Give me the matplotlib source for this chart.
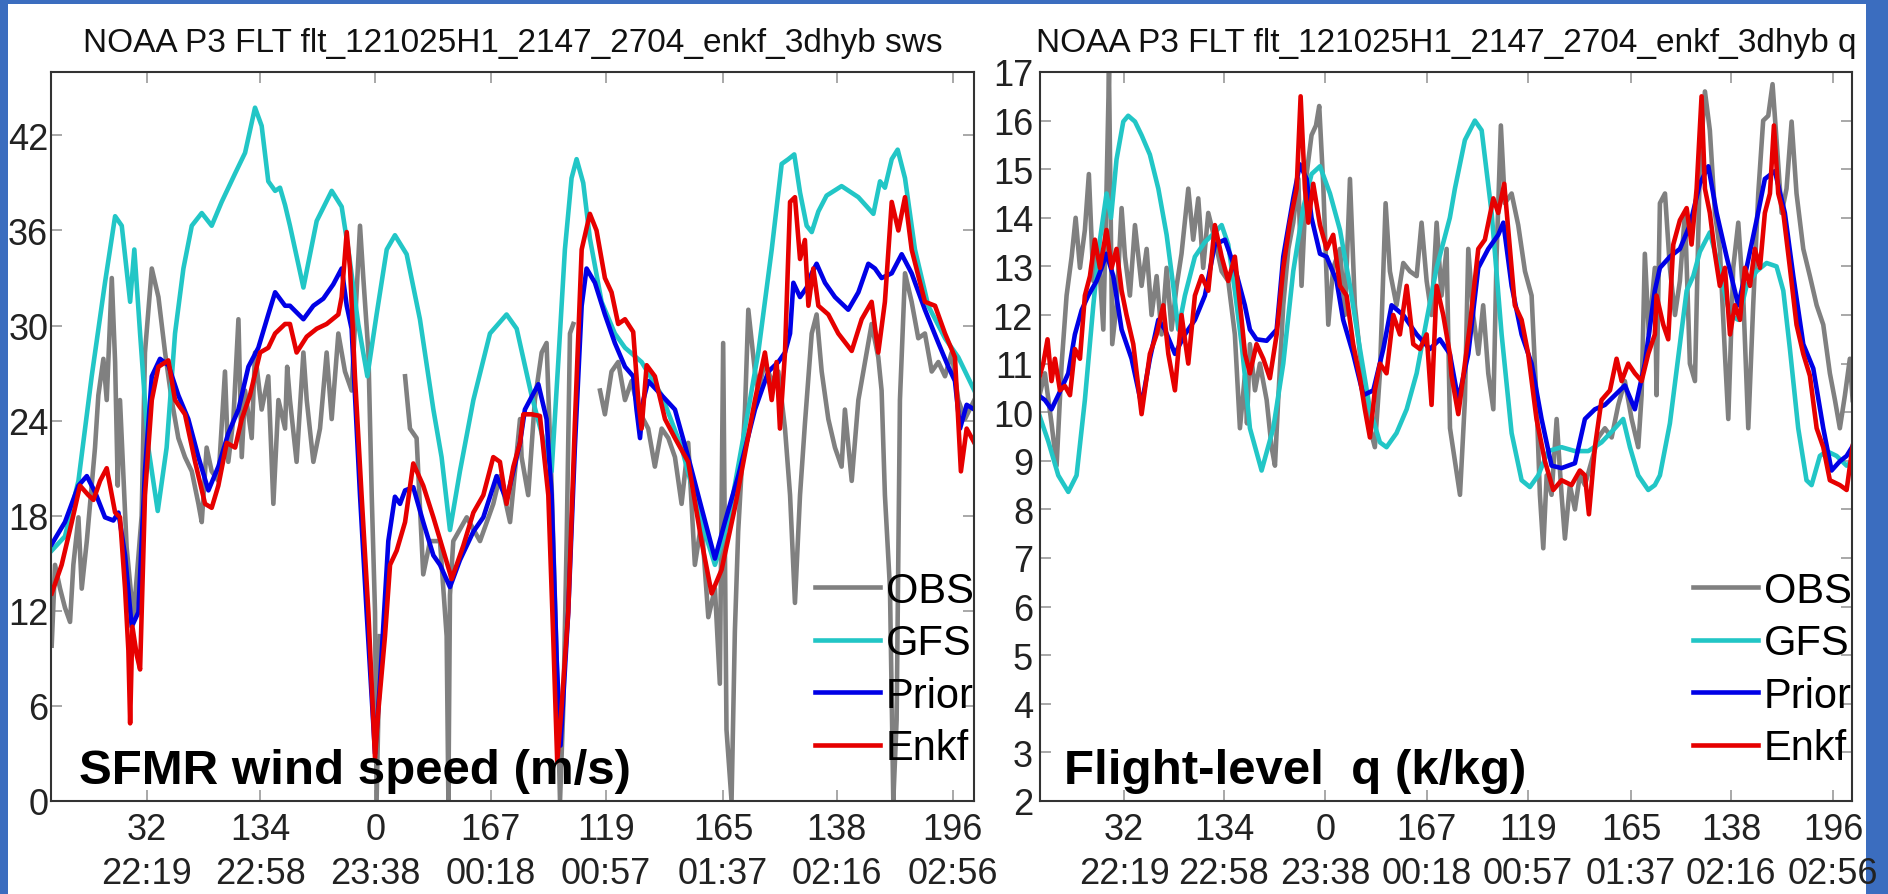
import numpy as np
import matplotlib.pyplot as plt
from matplotlib.patches import Rectangle
from matplotlib.lines import Line2D

plt.rcParams['font.family'] = ['Liberation Sans', 'DejaVu Sans']

# time axis in hours (values above 24 are after midnight)
t_start, t_end = 21.783, 27.067
tick_hours = [22.33, 22.98, 23.64, 24.30, 24.96, 25.63, 26.28, 26.945]
tick_heading = ['32', '134', '0', '167', '119', '165', '138', '196']
tick_clock = ['22:19', '22:58', '23:38', '00:18', '00:57', '01:37', '02:16', '02:56']

series_names = ['OBS', 'GFS', 'Prior', 'Enkf']
series_colors = ['#808080', '#22c6c6', '#0000e6', '#e60000']

# ---- SFMR surface wind speed (m/s), (hour, value) ----
sws_obs = [
    (21.787, 9.8), (21.806, 14.9), (21.835, 13.4), (21.863, 12.2), (21.892, 11.3), (21.911, 14.9),
    (21.940, 17.9), (21.959, 13.4), (21.988, 16.4), (22.035, 22.3), (22.054, 25.6), (22.083, 27.9),
    (22.102, 25.3), (22.131, 33.0), (22.150, 27.7), (22.165, 19.9), (22.178, 25.3), (22.216, 16.0),
    (22.255, 11.5), (22.302, 18.0), (22.321, 28.3), (22.360, 33.6), (22.398, 31.8), (22.436, 28.3),
    (22.474, 25.3), (22.512, 22.9), (22.550, 21.7), (22.589, 20.8), (22.627, 18.75), (22.646, 17.6),
    (22.674, 22.3), (22.703, 20.8), (22.741, 20.2), (22.779, 27.1), (22.798, 21.4), (22.827, 24.1),
    (22.856, 30.4), (22.875, 21.7), (22.894, 25.9), (22.932, 22.9), (22.951, 28.3), (22.989, 24.7),
    (23.027, 26.8), (23.056, 18.75), (23.085, 25.3), (23.123, 23.5), (23.135, 27.4), (23.151, 25.3),
    (23.189, 21.4), (23.228, 28.3), (23.247, 25.3), (23.285, 21.4), (23.323, 23.5), (23.361, 28.3),
    (23.390, 24.1), (23.428, 29.5), (23.466, 27.1), (23.504, 25.9), (23.552, 36.3), (23.571, 33.0),
    (23.600, 28.3), (23.619, 19.3), (23.638, 11.9), (23.647, 0.0), (23.666, 10.4), (23.740, np.nan),
    (23.810, 26.8), (23.838, 23.5), (23.876, 22.9), (23.914, 14.3), (23.953, 16.4), (24.010, 16.4),
    (24.048, 10.4), (24.058, 0.0), (24.067, 13.0), (24.086, 16.4), (24.163, 17.9), (24.239, 16.4),
    (24.315, 18.75), (24.353, 20.5), (24.411, 17.6), (24.468, 24.1), (24.477, 21.7), (24.515, 19.3),
    (24.553, 25.3), (24.592, 28.3), (24.620, 28.9), (24.649, 19.9), (24.678, 8.9), (24.697, 0.0),
    (24.716, 5.95), (24.735, 16.4), (24.754, 29.5), (24.773, 30.1), (24.850, np.nan), (24.926, 25.9),
    (24.954, 24.4), (24.992, 27.1), (25.030, 27.7), (25.069, 25.3), (25.107, 26.5), (25.145, 24.7),
    (25.202, 23.5), (25.240, 21.1), (25.279, 23.5), (25.317, 22.9), (25.355, 21.7), (25.393, 18.75),
    (25.431, 22.6), (25.469, 14.9), (25.507, 17.6), (25.546, 11.6), (25.584, 13.4), (25.612, 7.4),
    (25.631, 28.9), (25.650, 4.5), (25.679, 0.0), (25.698, 10.7), (25.717, 17.0), (25.756, 24.7),
    (25.775, 31.0), (25.813, 27.1), (25.832, 25.9), (25.870, 27.7), (25.909, 26.5), (25.947, 27.1),
    (25.985, 23.5), (26.014, 19.3), (26.042, 12.5), (26.071, 19.3), (26.099, 23.8), (26.138, 29.5),
    (26.166, 30.7), (26.195, 27.1), (26.233, 24.1), (26.271, 22.3), (26.309, 21.1), (26.328, 24.7),
    (26.367, 20.2), (26.405, 25.3), (26.443, 27.7), (26.481, 30.1), (26.519, 28.0), (26.538, 25.9),
    (26.557, 19.3), (26.586, 13.4), (26.605, 0.0), (26.624, 5.1), (26.643, 25.3), (26.672, 33.3),
    (26.710, 31.5), (26.748, 29.2), (26.786, 29.5), (26.825, 27.1), (26.863, 27.7), (26.901, 26.8),
    (26.939, 28.3), (26.977, 25.3), (27.015, 24.1), (27.069, 25.3),
]
sws_gfs = [
    (21.787, 15.8), (21.863, 16.7), (21.940, 20.2), (22.016, 26.8), (22.092, 32.7), (22.150, 36.9),
    (22.188, 36.3), (22.236, 31.5), (22.260, 34.8), (22.293, 29.5), (22.340, 22.3), (22.394, 18.3),
    (22.445, 22.3), (22.493, 29.5), (22.541, 33.6), (22.589, 36.3), (22.646, 37.1), (22.703, 36.3),
    (22.760, 37.8), (22.837, 39.6), (22.894, 40.9), (22.951, 43.75), (22.989, 42.6), (23.027, 39.1),
    (23.066, 38.5), (23.094, 38.7), (23.123, 37.6), (23.151, 36.3), (23.228, 32.4), (23.304, 36.6),
    (23.390, 38.5), (23.447, 37.5), (23.485, 34.8), (23.542, 30.1), (23.594, 26.8), (23.647, 30.7),
    (23.705, 34.8), (23.752, 35.7), (23.819, 34.5), (23.895, 30.4), (23.972, 24.7), (24.019, 21.7),
    (24.067, 17.1), (24.124, 20.8), (24.201, 25.3), (24.296, 29.5), (24.391, 30.7), (24.449, 29.8),
    (24.534, 25.6), (24.592, 23.2), (24.649, 20.8), (24.687, 27.7), (24.725, 34.8), (24.763, 39.3),
    (24.792, 40.5), (24.830, 39.0), (24.868, 35.5), (24.935, 31.5), (25.011, 29.5), (25.069, 28.6),
    (25.164, 27.7), (25.279, 25.6), (25.393, 22.3), (25.507, 17.6), (25.584, 14.9), (25.660, 17.6),
    (25.775, 24.7), (25.832, 28.3), (25.909, 34.8), (25.966, 40.2), (26.004, 40.5), (26.038, 40.8),
    (26.071, 38.4), (26.109, 36.3), (26.138, 35.9), (26.176, 37.2), (26.223, 38.2), (26.309, 38.8),
    (26.405, 38.1), (26.491, 37.05), (26.529, 39.1), (26.557, 38.7), (26.596, 40.5), (26.630, 41.1),
    (26.672, 39.3), (26.729, 34.8), (26.805, 31.25), (26.901, 29.2), (26.977, 28.0), (27.069, 25.9),
]
sws_prior = [
    (21.787, 16.2), (21.863, 17.6), (21.940, 19.9), (21.988, 20.5), (22.035, 19.5), (22.092, 17.9),
    (22.140, 17.7), (22.169, 18.2), (22.207, 15.5), (22.245, 11.0), (22.283, 11.9), (22.321, 20.8),
    (22.360, 26.8), (22.407, 27.9), (22.455, 27.5), (22.512, 25.6), (22.569, 24.1), (22.627, 21.7),
    (22.684, 19.6), (22.741, 21.1), (22.798, 23.2), (22.856, 24.7), (22.913, 27.4), (22.970, 28.6),
    (23.027, 30.7), (23.066, 32.1), (23.123, 31.25), (23.151, 31.25), (23.228, 30.4), (23.285, 31.25),
    (23.342, 31.7), (23.399, 32.6), (23.447, 33.6), (23.476, 31.25), (23.504, 29.8), (23.552, 19.3),
    (23.590, 11.9), (23.638, 3.0), (23.666, 7.4), (23.714, 16.4), (23.752, 19.2), (23.781, 18.75),
    (23.810, 19.6), (23.857, 19.8), (23.914, 17.6), (23.972, 15.5), (24.010, 14.9), (24.067, 13.5),
    (24.124, 15.2), (24.201, 17.0), (24.258, 17.9), (24.334, 20.5), (24.391, 19.0), (24.468, 22.6),
    (24.496, 24.7), (24.573, 26.3), (24.620, 24.1), (24.649, 19.3), (24.678, 8.9), (24.700, 3.5),
    (24.744, 11.9), (24.782, 22.3), (24.821, 31.25), (24.849, 33.6), (24.897, 32.7), (24.954, 30.7),
    (25.011, 28.9), (25.069, 27.4), (25.116, 26.8), (25.135, 24.7), (25.155, 22.9), (25.174, 25.3),
    (25.202, 26.5), (25.279, 25.6), (25.355, 24.7), (25.431, 21.7), (25.507, 18.5), (25.584, 15.3),
    (25.641, 17.6), (25.717, 20.5), (25.813, 24.7), (25.832, 25.3), (25.890, 27.1), (25.947, 27.7),
    (25.985, 28.3), (26.014, 29.5), (26.033, 32.7), (26.071, 31.8), (26.109, 32.4), (26.138, 33.3),
    (26.166, 33.9), (26.214, 32.7), (26.271, 31.8), (26.347, 31.0), (26.405, 32.1), (26.462, 33.9),
    (26.500, 33.6), (26.538, 33.0), (26.596, 33.3), (26.653, 34.5), (26.710, 33.3), (26.786, 31.0),
    (26.863, 28.9), (26.920, 27.4), (26.958, 26.5), (26.987, 23.5), (27.025, 25.0), (27.069, 24.7),
]
sws_enkf = [
    (21.787, 13.1), (21.844, 14.9), (21.902, 17.6), (21.949, 19.9), (21.997, 19.3), (22.026, 19.0),
    (22.064, 20.2), (22.102, 21.0), (22.121, 19.9), (22.150, 18.2), (22.178, 17.9), (22.207, 13.4),
    (22.226, 9.5), (22.236, 4.9), (22.249, 11.0), (22.274, 9.2), (22.293, 8.3), (22.321, 19.3),
    (22.360, 25.3), (22.398, 27.4), (22.455, 27.8), (22.493, 25.3), (22.550, 24.4), (22.608, 21.4),
    (22.665, 18.75), (22.703, 18.5), (22.741, 19.9), (22.789, 22.6), (22.837, 22.3), (22.875, 24.1),
    (22.922, 25.6), (22.980, 28.3), (23.027, 28.6), (23.066, 29.5), (23.123, 30.1), (23.151, 30.1),
    (23.189, 28.3), (23.247, 29.3), (23.304, 29.8), (23.361, 30.1), (23.428, 30.7), (23.447, 31.8),
    (23.476, 35.9), (23.495, 33.6), (23.523, 26.8), (23.561, 19.3), (23.600, 11.9), (23.638, 2.7),
    (23.657, 5.7), (23.695, 10.4), (23.724, 14.9), (23.762, 15.8), (23.810, 17.6), (23.857, 21.3),
    (23.914, 19.9), (23.972, 17.9), (24.029, 15.8), (24.077, 14.0), (24.143, 16.1), (24.201, 18.2),
    (24.258, 19.3), (24.315, 21.7), (24.353, 21.4), (24.391, 18.75), (24.430, 21.1), (24.468, 22.6),
    (24.487, 24.4), (24.534, 24.4), (24.582, 24.3), (24.630, 19.3), (24.658, 10.4), (24.681, 2.5),
    (24.706, 5.95), (24.744, 11.9), (24.782, 23.8), (24.821, 34.8), (24.868, 37.05), (24.906, 36.0),
    (24.954, 33.0), (24.992, 32.1), (25.030, 30.1), (25.069, 30.4), (25.116, 29.6), (25.145, 25.3),
    (25.164, 23.5), (25.193, 27.5), (25.240, 26.8), (25.298, 24.1), (25.355, 22.9), (25.431, 21.4),
    (25.507, 16.4), (25.565, 13.1), (25.622, 14.6), (25.698, 18.5), (25.813, 25.3), (25.870, 28.3),
    (25.909, 25.3), (25.937, 27.7), (25.956, 23.5), (25.985, 28.3), (26.014, 37.8), (26.042, 38.1),
    (26.071, 34.2), (26.099, 35.4), (26.119, 31.25), (26.147, 33.6), (26.176, 31.25), (26.233, 30.7),
    (26.290, 29.5), (26.367, 28.4), (26.424, 30.4), (26.481, 31.5), (26.519, 28.3), (26.557, 31.5),
    (26.596, 37.8), (26.634, 36.0), (26.672, 38.1), (26.710, 34.8), (26.786, 31.5), (26.844, 31.25),
    (26.901, 29.5), (26.958, 28.0), (26.992, 20.8), (27.025, 23.5), (27.069, 22.6),
]

# ---- flight-level specific humidity q, (hour, value) ----
q_obs = [
    (21.772, 10.25), (21.815, 10.8), (21.858, 9.77), (21.891, 8.9), (21.924, 11.0), (21.956, 12.4),
    (21.989, 13.2), (22.015, 14.0), (22.043, 12.97), (22.075, 13.75), (22.101, 14.9), (22.130, 12.7),
    (22.162, 13.36), (22.195, 11.7), (22.216, 14.6), (22.232, 17.0), (22.253, 11.4), (22.281, 12.2),
    (22.314, 14.2), (22.336, 13.2), (22.368, 12.4), (22.401, 13.85), (22.444, 12.6), (22.477, 13.36),
    (22.509, 12.0), (22.542, 12.8), (22.574, 11.6), (22.607, 12.97), (22.639, 11.7), (22.672, 12.6),
    (22.704, 13.26), (22.748, 14.6), (22.780, 13.55), (22.813, 14.4), (22.845, 12.97), (22.878, 14.1),
    (22.921, 13.55), (22.965, 12.9), (23.008, 12.7), (23.051, 11.6), (23.084, 9.67), (23.116, 10.75),
    (23.130, 9.77), (23.149, 11.4), (23.182, 10.45), (23.214, 11.0), (23.258, 10.25), (23.290, 9.28),
    (23.312, 8.9), (23.333, 10.25), (23.366, 12.2), (23.399, 13.36), (23.431, 13.9), (23.464, 14.8),
    (23.485, 12.6), (23.518, 14.9), (23.550, 15.7), (23.579, 15.9), (23.600, 16.3), (23.626, 14.7),
    (23.659, 11.8), (23.691, 12.97), (23.735, 13.36), (23.767, 12.0), (23.800, 14.8), (23.832, 12.2),
    (23.865, 11.2), (23.897, 10.45), (23.930, 9.67), (23.962, 9.28), (23.995, 10.8), (24.032, 14.3),
    (24.060, 12.9), (24.103, 12.2), (24.147, 13.07), (24.190, 12.9), (24.234, 12.8), (24.266, 13.9),
    (24.299, 12.7), (24.331, 12.0), (24.364, 13.9), (24.396, 12.4), (24.429, 13.36), (24.451, 9.67),
    (24.483, 8.99), (24.516, 8.3), (24.548, 10.25), (24.570, 13.36), (24.602, 12.0), (24.635, 11.2),
    (24.667, 12.2), (24.700, 10.8), (24.733, 10.06), (24.754, 13.2), (24.782, 15.9), (24.808, 14.3),
    (24.852, 14.5), (24.895, 13.85), (24.939, 12.9), (24.982, 12.4), (25.014, 10.25), (25.036, 8.3),
    (25.058, 7.2), (25.080, 8.7), (25.112, 8.3), (25.145, 9.86), (25.177, 8.3), (25.199, 7.4),
    (25.231, 8.5), (25.264, 8.0), (25.296, 8.7), (25.329, 8.5), (25.372, 8.99), (25.416, 9.48),
    (25.459, 9.67), (25.503, 9.48), (25.546, 10.15), (25.589, 10.64), (25.633, 9.86), (25.676, 9.28),
    (25.698, 10.35), (25.719, 13.26), (25.745, 11.6), (25.784, 12.97), (25.795, 10.35), (25.817, 14.3),
    (25.850, 14.5), (25.882, 12.97), (25.915, 12.0), (25.947, 12.7), (25.980, 14.1), (26.012, 11.0),
    (26.045, 10.64), (26.077, 15.1), (26.110, 16.6), (26.142, 15.8), (26.175, 14.1), (26.207, 13.36),
    (26.240, 11.2), (26.262, 9.86), (26.294, 12.97), (26.327, 13.9), (26.359, 12.4), (26.392, 9.67),
    (26.424, 12.2), (26.457, 14.5), (26.489, 16.0), (26.522, 16.1), (26.550, 16.75), (26.576, 15.6),
    (26.609, 14.1), (26.641, 14.6), (26.674, 15.98), (26.706, 14.5), (26.750, 13.36), (26.793, 12.8),
    (26.837, 12.2), (26.880, 11.8), (26.923, 10.8), (26.956, 10.25), (26.988, 9.67), (27.021, 10.35),
    (27.053, 11.1), (27.071, 10.25),
]
q_gfs = [
    (21.772, 10.0), (21.837, 9.4), (21.902, 8.7), (21.967, 8.36), (22.021, 8.7), (22.075, 10.25),
    (22.130, 12.2), (22.173, 13.55), (22.216, 14.5), (22.245, 14.0), (22.281, 15.2), (22.325, 15.98),
    (22.357, 16.1), (22.401, 15.98), (22.444, 15.7), (22.498, 15.3), (22.553, 14.6), (22.607, 13.65),
    (22.650, 12.6), (22.683, 11.7), (22.726, 12.4), (22.791, 13.2), (22.856, 13.5), (22.921, 13.7),
    (22.965, 13.85), (23.008, 13.45), (23.051, 12.5), (23.095, 11.4), (23.116, 10.75), (23.149, 9.67),
    (23.225, 8.8), (23.301, 9.67), (23.366, 11.0), (23.431, 12.9), (23.496, 14.2), (23.550, 14.9),
    (23.605, 15.06), (23.670, 14.5), (23.735, 13.75), (23.800, 12.6), (23.865, 11.3), (23.930, 10.06),
    (23.995, 9.38), (24.038, 9.28), (24.103, 9.57), (24.169, 10.06), (24.234, 10.8), (24.299, 11.9),
    (24.364, 12.97), (24.450, 14.0), (24.483, 14.6), (24.548, 15.6), (24.613, 16.0), (24.657, 15.8),
    (24.722, 14.1), (24.787, 11.6), (24.852, 9.57), (24.917, 8.6), (24.971, 8.46), (25.025, 8.7),
    (25.090, 9.2), (25.177, 9.28), (25.264, 9.2), (25.351, 9.2), (25.437, 9.38), (25.524, 9.67),
    (25.578, 9.86), (25.622, 9.28), (25.676, 8.7), (25.741, 8.4), (25.784, 8.5), (25.817, 8.7),
    (25.882, 9.77), (25.947, 11.4), (25.991, 12.5), (26.034, 12.8), (26.077, 13.3), (26.142, 13.7),
    (26.207, 12.9), (26.273, 12.0), (26.327, 11.9), (26.381, 12.6), (26.446, 12.9), (26.511, 13.07),
    (26.576, 13.0), (26.620, 12.5), (26.663, 11.3), (26.717, 9.67), (26.771, 8.6), (26.804, 8.5),
    (26.858, 9.1), (26.902, 9.2), (26.967, 9.1), (27.032, 8.9), (27.071, 9.0),
]
q_prior = [
    (21.772, 10.35), (21.815, 10.25), (21.858, 10.06), (21.902, 10.35), (21.967, 10.8), (22.010, 11.6),
    (22.054, 12.1), (22.097, 12.4), (22.151, 12.7), (22.184, 12.97), (22.216, 13.26), (22.260, 12.8),
    (22.314, 11.7), (22.379, 11.1), (22.444, 10.15), (22.498, 11.1), (22.553, 11.9), (22.596, 11.7),
    (22.661, 11.2), (22.726, 11.6), (22.791, 11.9), (22.856, 12.4), (22.921, 13.45), (22.986, 13.55),
    (23.051, 12.97), (23.116, 12.2), (23.149, 11.7), (23.192, 11.5), (23.258, 11.47), (23.323, 11.7),
    (23.366, 13.2), (23.431, 14.4), (23.474, 15.1), (23.518, 14.8), (23.550, 14.0), (23.605, 13.26),
    (23.648, 13.2), (23.713, 12.7), (23.756, 11.9), (23.821, 11.2), (23.887, 10.35), (23.952, 10.45),
    (24.017, 11.3), (24.071, 12.2), (24.147, 12.0), (24.234, 11.6), (24.320, 11.3), (24.385, 11.5),
    (24.450, 11.2), (24.505, 10.25), (24.570, 11.2), (24.635, 12.97), (24.700, 13.36), (24.765, 13.65),
    (24.798, 13.9), (24.852, 12.6), (24.917, 11.6), (24.982, 11.0), (25.047, 9.86), (25.112, 8.9),
    (25.177, 8.85), (25.264, 8.95), (25.329, 9.86), (25.394, 10.06), (25.459, 10.15), (25.524, 10.35),
    (25.589, 10.55), (25.654, 10.06), (25.719, 11.0), (25.784, 12.5), (25.817, 12.97), (25.882, 13.2),
    (25.947, 13.36), (26.012, 13.85), (26.077, 14.7), (26.132, 15.06), (26.186, 14.1), (26.251, 13.2),
    (26.327, 12.2), (26.381, 12.97), (26.446, 13.95), (26.500, 14.8), (26.565, 14.96), (26.630, 14.1),
    (26.685, 12.8), (26.750, 11.4), (26.815, 10.9), (26.880, 9.67), (26.934, 8.8), (26.988, 8.99),
    (27.032, 9.1), (27.071, 9.3),
]
q_enkf = [
    (21.772, 10.64), (21.804, 11.0), (21.832, 11.5), (21.858, 10.64), (21.880, 11.1), (21.913, 10.45),
    (21.945, 10.54), (21.978, 10.35), (22.010, 11.3), (22.043, 11.1), (22.075, 12.4), (22.108, 12.8),
    (22.140, 13.55), (22.173, 12.97), (22.216, 13.75), (22.249, 12.97), (22.281, 13.36), (22.314, 12.5),
    (22.346, 12.0), (22.390, 11.4), (22.444, 9.96), (22.498, 11.2), (22.542, 11.6), (22.585, 12.2),
    (22.618, 11.2), (22.661, 10.45), (22.704, 12.0), (22.748, 11.0), (22.791, 12.4), (22.835, 12.8),
    (22.878, 12.5), (22.921, 13.85), (22.965, 13.2), (23.008, 12.7), (23.051, 13.2), (23.095, 11.9),
    (23.117, 11.2), (23.149, 10.8), (23.192, 11.4), (23.236, 11.1), (23.279, 10.7), (23.323, 11.6),
    (23.366, 12.97), (23.409, 13.9), (23.453, 14.6), (23.479, 16.5), (23.507, 14.6), (23.529, 13.9),
    (23.561, 14.7), (23.605, 13.85), (23.648, 13.36), (23.691, 13.65), (23.735, 12.6), (23.778, 12.4),
    (23.821, 11.4), (23.865, 10.7), (23.897, 10.06), (23.930, 9.48), (23.962, 10.45), (23.995, 11.0),
    (24.038, 10.8), (24.082, 12.0), (24.125, 11.6), (24.169, 12.6), (24.212, 11.4), (24.255, 11.3),
    (24.299, 11.6), (24.331, 10.15), (24.364, 12.6), (24.407, 12.0), (24.450, 11.2), (24.461, 10.75),
    (24.505, 9.96), (24.548, 11.0), (24.581, 11.8), (24.635, 13.36), (24.678, 13.55), (24.733, 14.4),
    (24.765, 14.1), (24.804, 14.7), (24.841, 13.36), (24.873, 12.2), (24.917, 11.9), (24.960, 11.2),
    (25.014, 9.86), (25.069, 8.99), (25.123, 8.4), (25.177, 8.6), (25.242, 8.5), (25.296, 8.8),
    (25.329, 8.7), (25.355, 7.9), (25.394, 9.28), (25.437, 10.25), (25.492, 10.45), (25.535, 11.1),
    (25.568, 10.64), (25.611, 11.0), (25.654, 10.8), (25.698, 10.64), (25.741, 11.2), (25.784, 11.6),
    (25.795, 12.4), (25.839, 11.8), (25.871, 11.5), (25.904, 13.45), (25.947, 13.95), (25.991, 14.2),
    (26.023, 13.45), (26.056, 14.6), (26.088, 16.5), (26.110, 14.6), (26.142, 14.1), (26.175, 13.26),
    (26.207, 12.6), (26.240, 12.97), (26.273, 11.6), (26.305, 12.2), (26.338, 11.9), (26.370, 12.97),
    (26.403, 12.6), (26.435, 13.36), (26.468, 12.97), (26.500, 14.1), (26.533, 14.5), (26.559, 15.9),
    (26.587, 14.5), (26.620, 14.1), (26.663, 12.97), (26.706, 11.8), (26.750, 11.2), (26.793, 10.75),
    (26.837, 9.67), (26.880, 9.28), (26.923, 8.6), (26.988, 8.5), (27.032, 8.4), (27.071, 9.3),
]

sws_yticks = [0, 6, 12, 18, 24, 30, 36, 42]
q_yticks = list(range(2, 18))


def draw_panel(ax, series, ylim, yticks, title, label, ypad):
    for data, color in zip(series, series_colors):
        t, v = np.array(data).T
        ax.plot(t, v, color=color, lw=3.3, solid_joinstyle='round')
    ax.set_xlim(t_start, t_end)
    ax.set_ylim(*ylim)
    ax.set_xticks(tick_hours)
    ax.set_xticklabels([h + '\n' + c for h, c in zip(tick_heading, tick_clock)])
    for lbl in ax.get_xticklabels():
        lbl.set_linespacing(1.34)
    ax.set_yticks(yticks)
    ax.tick_params(direction='in', length=8, width=1.2, color='#999999',
                   top=True, right=True, labelsize=26, labelcolor='#222222')
    ax.tick_params(axis='x', pad=8)
    ax.tick_params(axis='y', pad=ypad)
    for sp in ax.spines.values():
        sp.set_color('#333333')
        sp.set_linewidth(1.5)
    ax.set_title(title, fontsize=24, pad=15, color='#111111')
    handles = [Line2D([], [], color=c, lw=3.3) for c in series_colors]
    ax.legend(handles, series_names, loc='lower right', frameon=False, fontsize=30,
              handlelength=1.55, handletextpad=0.15, labelspacing=0.3,
              borderpad=0, borderaxespad=0, bbox_to_anchor=(1.0, 0.045))
    ax.text(0.03, 0.025, label, transform=ax.transAxes, fontsize=35.5,
            fontweight='bold', color='black', va='baseline', ha='left')


fig = plt.figure(figsize=(18.88, 8.95), dpi=100, facecolor='#3b6dbf')
fig.patches.append(Rectangle((8 / 1888, 0), 1858 / 1888, 1 - 5 / 895,
                             transform=fig.transFigure, facecolor='white',
                             edgecolor='none', zorder=-10))

ax1 = fig.add_axes([51 / 1888, 93 / 895, 923 / 1888, 729 / 895])
ax2 = fig.add_axes([1040 / 1888, 93 / 895, 812 / 1888, 729 / 895])

draw_panel(ax1, [sws_obs, sws_gfs, sws_prior, sws_enkf], (0, 46), sws_yticks,
           'NOAA P3 FLT flt_121025H1_2147_2704_enkf_3dhyb sws',
           'SFMR wind speed (m/s)', 2)
draw_panel(ax2, [q_obs, q_gfs, q_prior, q_enkf], (2, 17), q_yticks,
           'NOAA P3 FLT flt_121025H1_2147_2704_enkf_3dhyb q',
           'Flight-level  q (k/kg)', 5)

fig.savefig('out.png', dpi=100)
